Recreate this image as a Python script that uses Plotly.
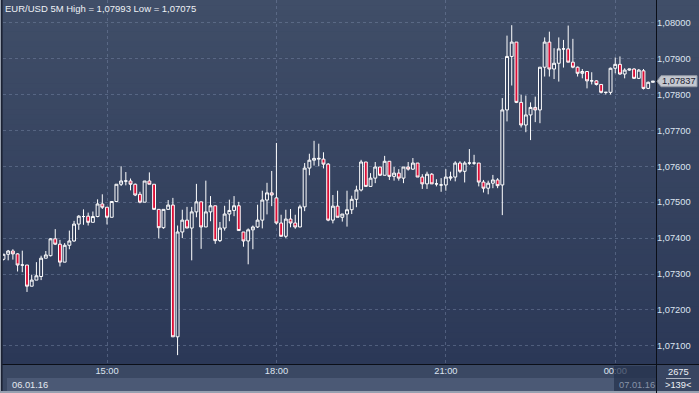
import plotly.graph_objects as go
import pandas as pd

# ---------------- data (EUR/USD, 5-minute candles) ----------------
times = pd.date_range("2016-01-06 13:10", periods=139, freq="5min").strftime("%Y-%m-%d %H:%M").tolist()

open_ = [1.07341, 1.07355, 1.07364, 1.07356, 1.07325, 1.07325, 1.07266, 1.07283, 1.07293, 1.07344,
         1.07351, 1.07398, 1.07383, 1.07333, 1.07380, 1.07392, 1.07439, 1.07460, 1.07461, 1.07444,
         1.07460, 1.07495, 1.07486, 1.07458, 1.07502, 1.07550, 1.07559, 1.07559, 1.07550, 1.07522,
         1.07500, 1.07559, 1.07550, 1.07480, 1.07429, 1.07480, 1.07492, 1.07125, 1.07417, 1.07450,
         1.07428, 1.07473, 1.07501, 1.07431, 1.07473, 1.07490, 1.07393, 1.07428, 1.07467, 1.07477,
         1.07490, 1.07417, 1.07392, 1.07423, 1.07431, 1.07450, 1.07506, 1.07526, 1.07512, 1.07442,
         1.07405, 1.07453, 1.07442, 1.07431, 1.07487, 1.07595, 1.07617, 1.07620, 1.07620, 1.07606,
         1.07450, 1.07489, 1.07458, 1.07467, 1.07479, 1.07508, 1.07534, 1.07612, 1.07544, 1.07567,
         1.07598, 1.07575, 1.07614, 1.07572, 1.07581, 1.07567, 1.07598, 1.07592, 1.07609, 1.07570,
         1.07551, 1.07578, 1.07551, 1.07548, 1.07548, 1.07567, 1.07570, 1.07609, 1.07586, 1.07609,
         1.07609, 1.07609, 1.07556, 1.07539, 1.07553, 1.07562, 1.07548, 1.07757, 1.07906, 1.07946,
         1.07778, 1.07715, 1.07743, 1.07764, 1.07757, 1.07876, 1.07946, 1.07871, 1.07887, 1.07927,
         1.07927, 1.07890, 1.07876, 1.07859, 1.07864, 1.07838, 1.07838, 1.07828, 1.07806, 1.07806,
         1.07873, 1.07884, 1.07857, 1.07868, 1.07871, 1.07845, 1.07866, 1.07817, 1.07834]

high = [1.07356, 1.07367, 1.07369, 1.07358, 1.07365, 1.07325, 1.07298, 1.07333, 1.07351, 1.07364,
        1.07400, 1.07425, 1.07395, 1.07386, 1.07421, 1.07448, 1.07464, 1.07480, 1.07471, 1.07474,
        1.07508, 1.07522, 1.07486, 1.07502, 1.07550, 1.07600, 1.07584, 1.07566, 1.07552, 1.07529,
        1.07559, 1.07583, 1.07550, 1.07480, 1.07480, 1.07506, 1.07512, 1.07435, 1.07479, 1.07487,
        1.07487, 1.07551, 1.07501, 1.07560, 1.07517, 1.07490, 1.07445, 1.07490, 1.07507, 1.07517,
        1.07501, 1.07417, 1.07427, 1.07435, 1.07493, 1.07532, 1.07554, 1.07587, 1.07665, 1.07465,
        1.07479, 1.07481, 1.07465, 1.07493, 1.07609, 1.07635, 1.07671, 1.07663, 1.07639, 1.07609,
        1.07520, 1.07532, 1.07467, 1.07532, 1.07518, 1.07546, 1.07618, 1.07612, 1.07581, 1.07612,
        1.07598, 1.07629, 1.07614, 1.07598, 1.07592, 1.07598, 1.07612, 1.07623, 1.07609, 1.07578,
        1.07585, 1.07581, 1.07564, 1.07567, 1.07592, 1.07585, 1.07614, 1.07614, 1.07614, 1.07648,
        1.07632, 1.07609, 1.07562, 1.07560, 1.07576, 1.07567, 1.07790, 1.07964, 1.07993, 1.07946,
        1.07799, 1.07797, 1.07778, 1.07794, 1.07876, 1.07959, 1.07975, 1.07929, 1.07959, 1.07952,
        1.07992, 1.07955, 1.07878, 1.07871, 1.07864, 1.07862, 1.07840, 1.07828, 1.07806, 1.07875,
        1.07903, 1.07906, 1.07873, 1.07871, 1.07873, 1.07871, 1.07871, 1.07836, 1.07837]

low = [1.07338, 1.07338, 1.07340, 1.07307, 1.07305, 1.07250, 1.07266, 1.07283, 1.07283, 1.07344,
       1.07349, 1.07381, 1.07321, 1.07333, 1.07369, 1.07390, 1.07423, 1.07437, 1.07435, 1.07444,
       1.07458, 1.07481, 1.07438, 1.07458, 1.07500, 1.07545, 1.07547, 1.07533, 1.07517, 1.07497,
       1.07500, 1.07550, 1.07480, 1.07399, 1.07426, 1.07480, 1.07125, 1.07074, 1.07400, 1.07428,
       1.07338, 1.07458, 1.07370, 1.07431, 1.07447, 1.07384, 1.07389, 1.07421, 1.07447, 1.07461,
       1.07421, 1.07376, 1.07327, 1.07369, 1.07428, 1.07427, 1.07466, 1.07489, 1.07438, 1.07405,
       1.07400, 1.07430, 1.07426, 1.07431, 1.07475, 1.07575, 1.07602, 1.07600, 1.07594, 1.07447,
       1.07441, 1.07458, 1.07446, 1.07432, 1.07467, 1.07486, 1.07530, 1.07544, 1.07544, 1.07553,
       1.07573, 1.07575, 1.07562, 1.07560, 1.07560, 1.07553, 1.07588, 1.07590, 1.07570, 1.07537,
       1.07537, 1.07551, 1.07544, 1.07529, 1.07532, 1.07560, 1.07558, 1.07581, 1.07555, 1.07604,
       1.07604, 1.07544, 1.07527, 1.07522, 1.07539, 1.07539, 1.07464, 1.07725, 1.07825, 1.07776,
       1.07708, 1.07695, 1.07673, 1.07723, 1.07720, 1.07850, 1.07850, 1.07843, 1.07836, 1.07875,
       1.07890, 1.07873, 1.07850, 1.07845, 1.07817, 1.07828, 1.07825, 1.07803, 1.07800, 1.07800,
       1.07859, 1.07855, 1.07845, 1.07866, 1.07843, 1.07843, 1.07814, 1.07815, 1.07833]

close = [1.07355, 1.07364, 1.07356, 1.07325, 1.07325, 1.07266, 1.07283, 1.07295, 1.07344, 1.07353,
         1.07398, 1.07383, 1.07333, 1.07380, 1.07392, 1.07439, 1.07461, 1.07460, 1.07444, 1.07460,
         1.07495, 1.07486, 1.07458, 1.07502, 1.07550, 1.07559, 1.07559, 1.07550, 1.07520, 1.07500,
         1.07559, 1.07550, 1.07480, 1.07429, 1.07480, 1.07492, 1.07125, 1.07417, 1.07450, 1.07428,
         1.07473, 1.07501, 1.07431, 1.07473, 1.07490, 1.07393, 1.07428, 1.07467, 1.07477, 1.07490,
         1.07421, 1.07392, 1.07423, 1.07431, 1.07450, 1.07506, 1.07526, 1.07520, 1.07442, 1.07405,
         1.07453, 1.07442, 1.07431, 1.07487, 1.07595, 1.07617, 1.07622, 1.07622, 1.07606, 1.07450,
         1.07489, 1.07458, 1.07467, 1.07479, 1.07508, 1.07534, 1.07612, 1.07544, 1.07567, 1.07598,
         1.07575, 1.07614, 1.07572, 1.07581, 1.07567, 1.07598, 1.07592, 1.07609, 1.07570, 1.07551,
         1.07578, 1.07551, 1.07551, 1.07548, 1.07570, 1.07570, 1.07609, 1.07586, 1.07609, 1.07609,
         1.07609, 1.07556, 1.07539, 1.07553, 1.07562, 1.07546, 1.07757, 1.07906, 1.07946, 1.07778,
         1.07715, 1.07743, 1.07764, 1.07757, 1.07876, 1.07946, 1.07871, 1.07887, 1.07927, 1.07927,
         1.07890, 1.07876, 1.07859, 1.07864, 1.07838, 1.07838, 1.07828, 1.07806, 1.07806, 1.07873,
         1.07884, 1.07857, 1.07868, 1.07871, 1.07845, 1.07868, 1.07817, 1.07834, 1.07837]

price_ticks = [1.071, 1.072, 1.073, 1.074, 1.075, 1.076, 1.077, 1.078, 1.079, 1.080]
time_ticks = ["2016-01-06 15:00", "2016-01-06 18:00", "2016-01-06 21:00", "2016-01-07 00:00"]
time_labels = ["15:00", "18:00", "21:00", "00:00"]
title_text = "EUR/USD 5M High = 1,07993 Low = 1,07075"
last_price_text = "1,07837"
last_price = 1.07837
date_left, date_right = "06.01.16", "07.01.16"
info_top, info_bottom = "2675", ">139<"

# ---------------- layout geometry ----------------
W, H = 699, 393
ML, MR, MT, MB = 3, 43, 0, 29
PW, PH = W - ML - MR, H - MT - MB

def px(xp):
    return (xp - ML) / PW

def py(yp):
    return (H - MB - yp) / PH

FONT = "Liberation Sans, Arial, sans-serif"
GRID = "rgba(125,140,170,0.45)"
TXT = "#dde4f0"

fig = go.Figure(go.Candlestick(
    x=times, open=open_, high=high, low=low, close=close,
    increasing=dict(line=dict(color="#ffffff", width=1), fillcolor="rgb(50,63,92)"),
    decreasing=dict(line=dict(color="#ffffff", width=1), fillcolor="#dc0f37"),
    whiskerwidth=0, hoverinfo="skip", showlegend=False,
))

shapes = []
# background gradient
top, bot = (64, 78, 104), (43, 56, 87)
N = 70
for i in range(N):
    y0p = i * 364 / N
    y1p = (i + 1) * 364 / N + 0.6
    t = (i + 0.5) / N
    c = tuple(round(top[k] + (bot[k] - top[k]) * t) for k in range(3))
    shapes.append(dict(type="rect", xref="paper", yref="paper", x0=px(0), x1=px(W),
                       y0=py(y1p), y1=py(y0p), fillcolor="rgb(%d,%d,%d)" % c,
                       line_width=0, layer="below"))
# bottom strips
shapes.append(dict(type="rect", xref="paper", yref="paper", x0=px(0), x1=px(W), y0=py(393), y1=py(364),
                   fillcolor="rgb(58,72,99)", line_width=0, layer="below"))
shapes.append(dict(type="rect", xref="paper", yref="paper", x0=px(7), x1=px(656), y0=py(391), y1=py(378),
                   fillcolor="rgb(75,89,117)", line_width=0, layer="below"))
shapes.append(dict(type="rect", xref="paper", yref="paper", x0=px(657), x1=px(W), y0=py(391), y1=py(365),
                   fillcolor="rgb(56,69,97)", line_width=0, layer="below"))
shapes.append(dict(type="rect", xref="paper", yref="paper", x0=px(0), x1=px(W), y0=py(393), y1=py(391),
                   fillcolor="rgb(150,160,176)", line_width=0, layer="above"))
# dark box at the right end of the time axis
shapes.append(dict(type="rect", xref="paper", yref="paper", x0=px(614), x1=px(656), y0=py(391), y1=py(366),
                   fillcolor="rgba(36,48,76,0.72)", line_width=0, layer="above"))
# frame lines
shapes.append(dict(type="line", xref="paper", yref="paper", x0=px(0), x1=px(W), y0=py(364.5), y1=py(364.5),
                   line=dict(color="#0b0f18", width=1), layer="above"))
shapes.append(dict(type="line", xref="paper", yref="paper", x0=px(656.5), x1=px(656.5), y0=py(393), y1=py(0),
                   line=dict(color="#0b0f18", width=1), layer="above"))
shapes.append(dict(type="rect", xref="paper", yref="paper", x0=px(0), x1=px(1), y0=py(393), y1=py(0),
                   fillcolor="rgb(150,158,172)", line_width=0, layer="above"))
shapes.append(dict(type="rect", xref="paper", yref="paper", x0=px(1), x1=px(2.6), y0=py(391), y1=py(0),
                   fillcolor="rgb(28,35,52)", line_width=0, layer="above"))
shapes.append(dict(type="line", xref="paper", yref="paper", x0=px(666), x1=px(691), y0=py(378.5), y1=py(378.5),
                   line=dict(color="rgb(175,182,195)", width=1), layer="above"))
# last price tag
lp_y = 22.7 + (1.080 - last_price) / 0.001 * 35.9
tag = "M %f,%f L %f,%f L %f,%f L %f,%f L %f,%f Z" % (
    px(657), py(lp_y), px(661), py(lp_y - 5.5), px(697), py(lp_y - 5.5),
    px(697), py(lp_y + 5.5), px(661), py(lp_y + 5.5))
shapes.append(dict(type="path", xref="paper", yref="paper", path=tag,
                   fillcolor="rgb(196,200,208)", line=dict(color="rgb(150,156,168)", width=1), layer="above"))

annotations = [
    dict(text=title_text, xref="paper", yref="paper", x=px(3), y=py(1), xanchor="left", yanchor="top",
         showarrow=False, font=dict(family=FONT, size=9.5, color="#eef1f6")),
    dict(text=last_price_text, xref="paper", yref="y", x=px(679), y=last_price, xanchor="center",
         yanchor="middle", showarrow=False, font=dict(family=FONT, size=9.3, color="#1b2130")),
    dict(text=date_left, xref="paper", yref="paper", x=px(10), y=py(384.5), xanchor="left", yanchor="middle",
         showarrow=False, font=dict(family=FONT, size=9.3, color="#e4e9f1")),
    dict(text=date_right, xref="paper", yref="paper", x=px(617), y=py(384.5), xanchor="left", yanchor="middle",
         showarrow=False, font=dict(family=FONT, size=9.3, color="#8793a8")),
    dict(text=info_top, xref="paper", yref="paper", x=px(678.5), y=py(371.5), xanchor="center",
         yanchor="middle", showarrow=False, font=dict(family=FONT, size=9.3, color="#eef1f6")),
    dict(text=info_bottom, xref="paper", yref="paper", x=px(678.5), y=py(384.5), xanchor="center",
         yanchor="middle", showarrow=False, font=dict(family=FONT, size=9.3, color="#eef1f6")),
]

fig.update_layout(
    width=W, height=H, margin=dict(l=ML, r=MR, t=MT, b=MB, pad=0),
    paper_bgcolor="rgb(52,65,93)", plot_bgcolor="rgba(0,0,0,0)",
    separators=",.", showlegend=False, hovermode=False, boxgap=0.12,
    shapes=shapes, annotations=annotations,
    xaxis=dict(type="date", range=["2016-01-06 13:09:30", "2016-01-07 00:43:18"],
               tickvals=time_ticks, ticktext=time_labels, showgrid=True, gridcolor=GRID,
               griddash="3px,3px", gridwidth=1, ticks="", showline=False, zeroline=False,
               tickfont=dict(family=FONT, size=9.3, color=TXT), rangeslider=dict(visible=False),
               fixedrange=True),
    yaxis=dict(side="right", range=[1.070493, 1.080632], tickvals=price_ticks, tickformat=".5f",
               showgrid=True, gridcolor=GRID, griddash="3px,3px", gridwidth=1, ticks="",
               showline=False, zeroline=False, tickfont=dict(family=FONT, size=9.3, color=TXT),
               fixedrange=True),
)

fig.write_html("out.html")
